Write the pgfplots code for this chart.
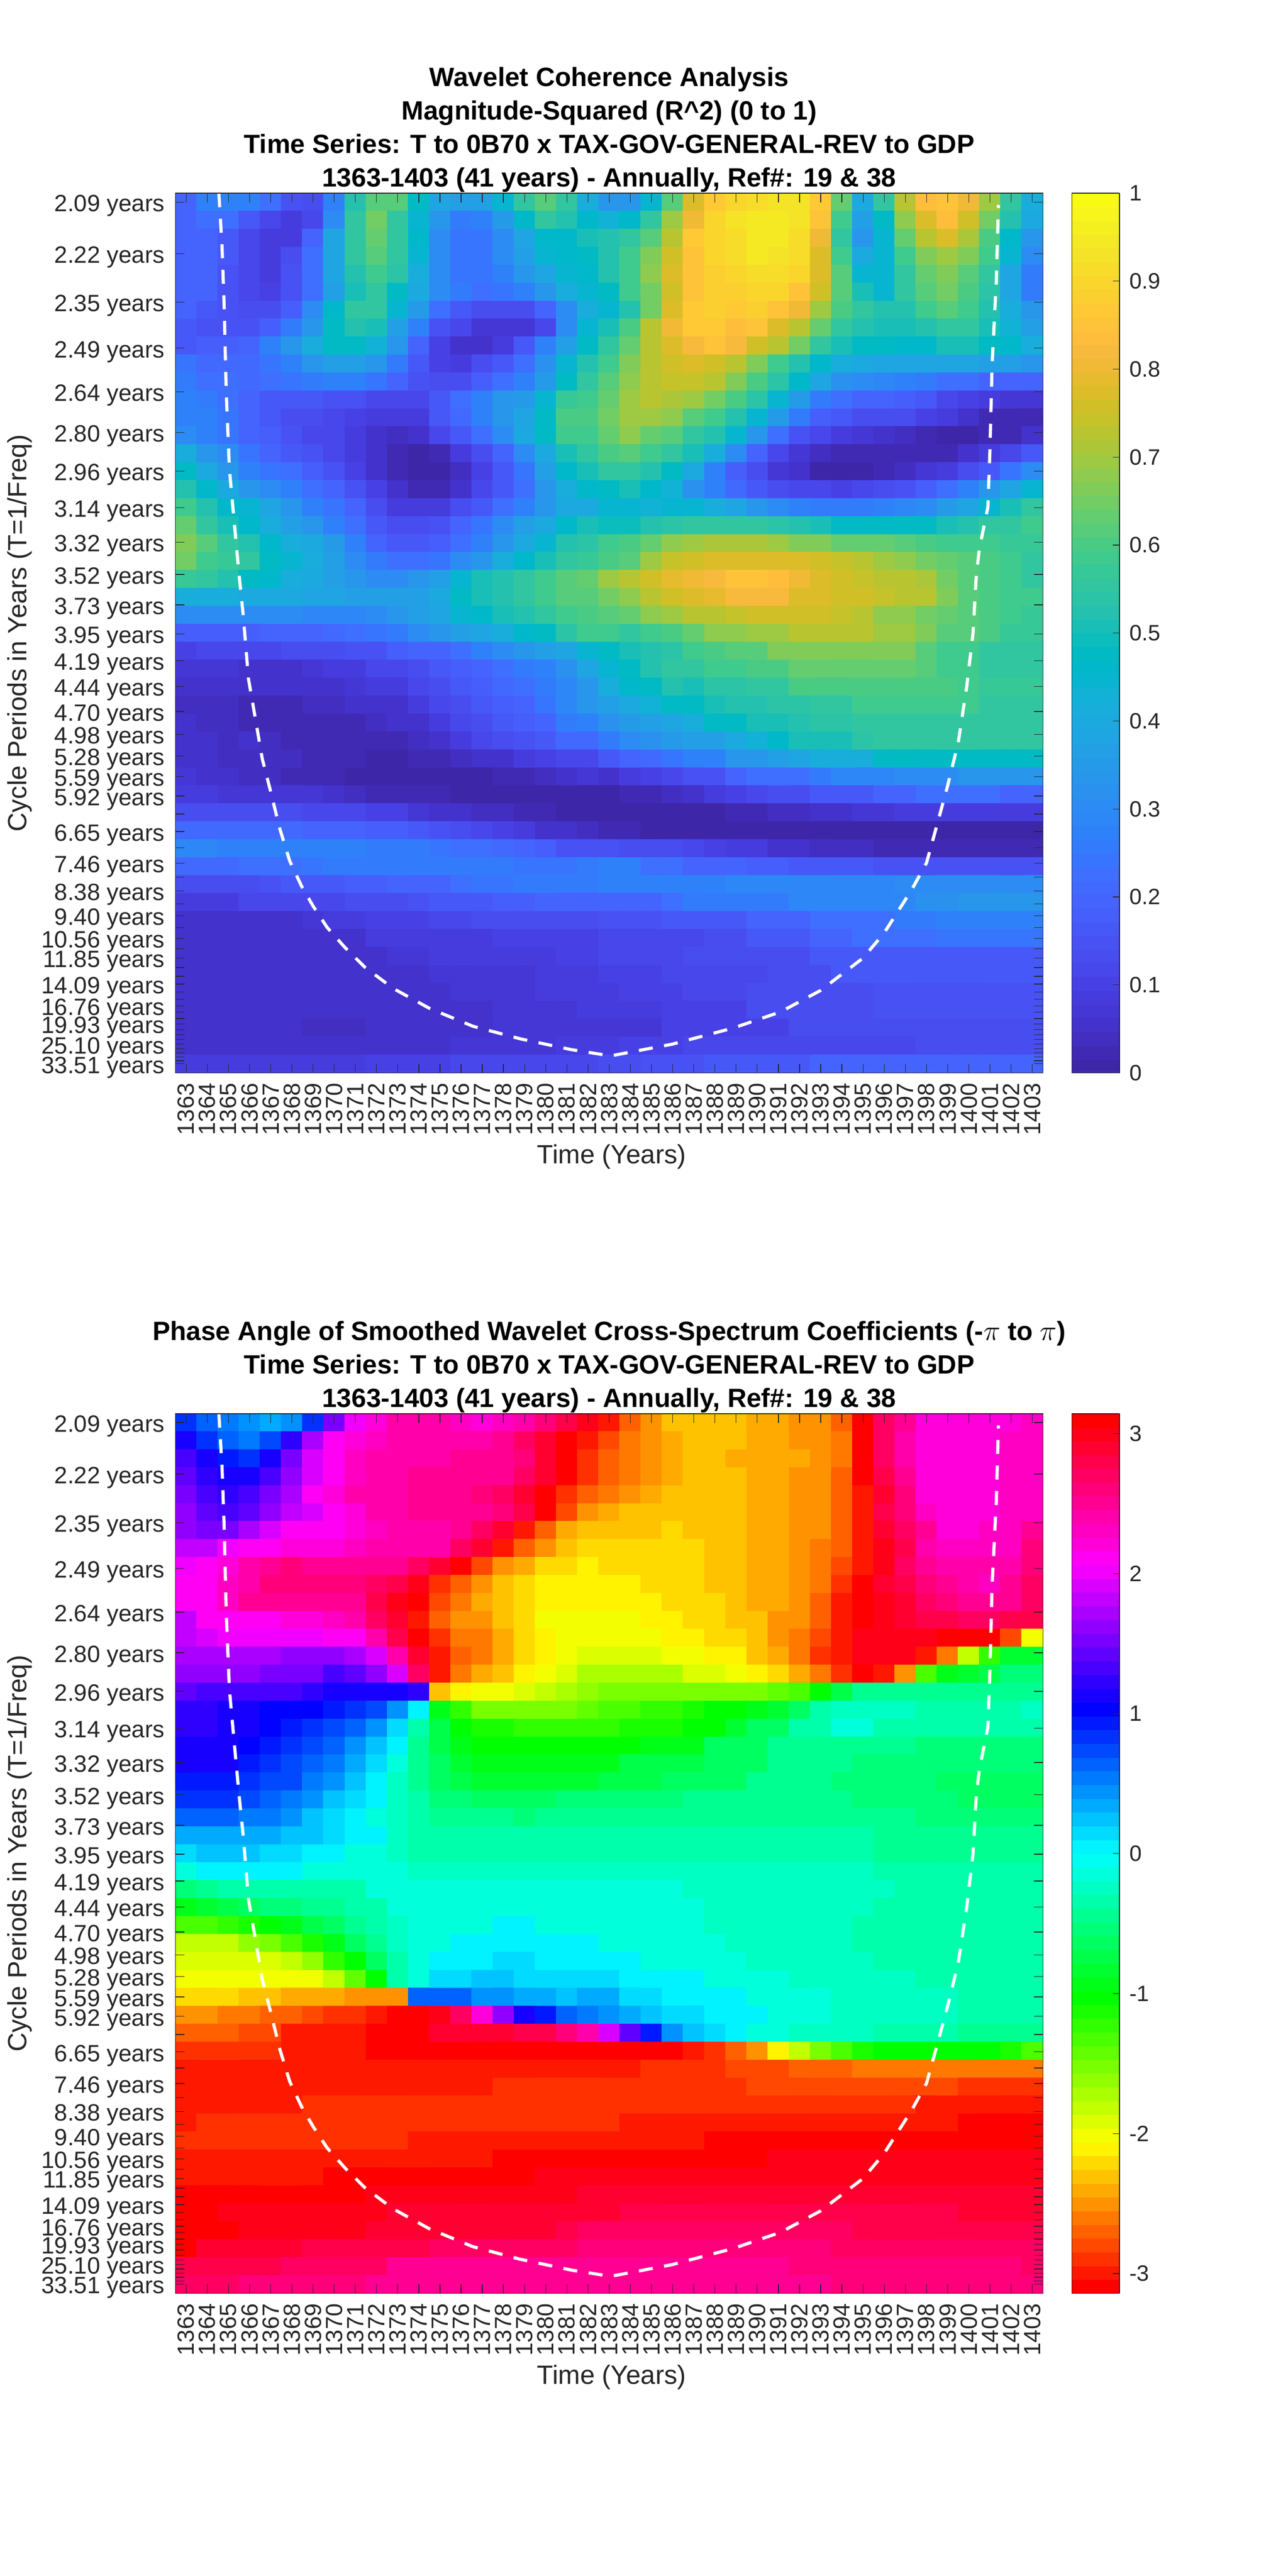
\documentclass[border=0pt]{standalone}
\usepackage{fontspec}
\setmainfont{Liberation Sans}
\usepackage{pgfplots}
\pgfplotsset{compat=1.18}
\definecolor{tk}{rgb}{0.15,0.15,0.15}
\pgfplotsset{
colormap={parula64}{
rgb=(.2422,.1504,.6603) rgb=(.2504,.1650,.7076) rgb=(.2578,.1818,.7511) rgb=(.2647,.1978,.7952)
rgb=(.2706,.2147,.8364) rgb=(.2751,.2342,.8710) rgb=(.2783,.2559,.8991) rgb=(.2803,.2782,.9221)
rgb=(.2813,.3006,.9414) rgb=(.2810,.3228,.9579) rgb=(.2795,.3447,.9717) rgb=(.2760,.3667,.9829)
rgb=(.2699,.3892,.9906) rgb=(.2602,.4123,.9952) rgb=(.2440,.4358,.9988) rgb=(.2206,.4603,.9973)
rgb=(.1963,.4847,.9892) rgb=(.1834,.5074,.9798) rgb=(.1786,.5289,.9682) rgb=(.1764,.5499,.9520)
rgb=(.1687,.5703,.9359) rgb=(.1540,.5902,.9218) rgb=(.1460,.6091,.9079) rgb=(.1380,.6276,.8973)
rgb=(.1248,.6459,.8883) rgb=(.1113,.6635,.8763) rgb=(.0952,.6798,.8598) rgb=(.0689,.6948,.8394)
rgb=(.0297,.7082,.8163) rgb=(.0036,.7203,.7917) rgb=(.0067,.7312,.7660) rgb=(.0433,.7411,.7394)
rgb=(.0964,.7500,.7120) rgb=(.1408,.7584,.6842) rgb=(.1717,.7670,.6554) rgb=(.1938,.7758,.6251)
rgb=(.2161,.7843,.5923) rgb=(.2470,.7918,.5567) rgb=(.2906,.7973,.5188) rgb=(.3406,.8008,.4789)
rgb=(.3909,.8029,.4354) rgb=(.4456,.8024,.3909) rgb=(.5044,.7993,.3480) rgb=(.5616,.7942,.3045)
rgb=(.6174,.7876,.2612) rgb=(.6720,.7793,.2227) rgb=(.7242,.7698,.1910) rgb=(.7738,.7598,.1646)
rgb=(.8203,.7498,.1535) rgb=(.8634,.7406,.1596) rgb=(.9035,.7330,.1774) rgb=(.9393,.7288,.2100)
rgb=(.9728,.7298,.2394) rgb=(.9956,.7434,.2371) rgb=(.9970,.7659,.2199) rgb=(.9952,.7893,.2028)
rgb=(.9892,.8136,.1885) rgb=(.9786,.8386,.1766) rgb=(.9676,.8639,.1643) rgb=(.9610,.8890,.1537)
rgb=(.9597,.9135,.1423) rgb=(.9628,.9373,.1265) rgb=(.9691,.9606,.1064) rgb=(.9769,.9839,.0805)},
colormap={hsvbase}{rgb255=(255,0,0) rgb255=(255,255,0) rgb255=(0,255,0) rgb255=(0,255,255) rgb255=(0,0,255) rgb255=(255,0,255) rgb255=(255,0,0)},
colormap={hsv64}{samples of colormap=(64 of hsvbase)},
hm/.style={
 anchor=north west, scale only axis, width=526.25pt, height=533.75pt,
 xmin=0, xmax=41, ymin=0, ymax=49, y dir=reverse, axis on top,
 tick align=inside, major tick length=5.5pt, tick style={tk,line width=.4pt}, axis line style={tk,line width=.4pt},
 xtick={0.5,1.5,...,40.5},
 xticklabels={1363,1364,1365,1366,1367,1368,1369,1370,1371,1372,1373,1374,1375,1376,1377,1378,1379,1380,1381,1382,1383,1384,1385,1386,1387,1388,1389,1390,1391,1392,1393,1394,1395,1396,1397,1398,1399,1400,1401,1402,1403},
 x tick label style={rotate=90,anchor=east,font=\fontsize{14.2}{14.2}\selectfont,text=tk,inner sep=0pt,xshift=.5pt},
 xticklabel shift=6.5pt,
 ytick={0.49,3.36,6.07,8.63,11.05,13.32,15.47,17.52,19.43,21.23,22.93,24.54,26.03,27.48,28.87,30.14,31.35,32.49,33.57,34.58,35.55,36.45,37.31,38.10,38.87,39.59,40.25,40.91,41.51,42.08,42.60,43.13,43.62,44.05,44.49,44.89,45.26,45.62,45.97,46.27,46.58,46.87,47.13,47.40,47.64,47.88,48.10,48.32,48.49},
 yticklabels={2.09 years,2.22 years,2.35 years,2.49 years,2.64 years,2.80 years,2.96 years,3.14 years,3.32 years,3.52 years,3.73 years,3.95 years,4.19 years,4.44 years,4.70 years,4.98 years,5.28 years,5.59 years,5.92 years,{},6.65 years,{},7.46 years,{},8.38 years,{},9.40 years,{},10.56 years,{},11.85 years,{},{},14.09 years,{},{},16.76 years,{},{},19.93 years,{},{},{},25.10 years,{},{},{},{},33.51 years},
 y tick label style={font=\fontsize{14.3}{14.3}\selectfont,text=tk,inner sep=0pt,anchor=east,yshift=-2.2pt},
 yticklabel shift=6.5pt,
 xlabel={Time (Years)}, ylabel={Cycle Periods in Years (T=1/Freq)},
 every axis x label/.style={at={(axis description cs:0.503,-0.0951)},anchor=center,font=\fontsize{16}{16}\selectfont,text=tk},
 every axis y label/.style={at={(axis description cs:-0.1796,0.5)},anchor=center,rotate=90,font=\fontsize{16}{16}\selectfont,text=tk},
 title style={at={(axis description cs:0.5,1)},anchor=south,align=center,inner sep=0pt,yshift=-5.5pt,font=\fontsize{16.05}{20.25}\selectfont\bfseries,text=black},
 colorbar sampled,
 colorbar shift/.style={xshift=17.5pt},
 colormap access=piecewise constant,
},
cb/.style={samples=65,width=29pt,at={(parent axis.north east)},anchor=north west,tick align=inside,ytick pos=right,yticklabel pos=right,major tick length=4pt,tick style={tk,line width=.4pt},axis line style={tk,line width=.4pt},
 y tick label style={font=\fontsize{13.5}{13.5}\selectfont,text=tk,inner sep=0pt},yticklabel shift=5.8pt},
}
\begin{document}
\begin{tikzpicture}
\path[use as bounding box] (0,0) rectangle (781.25pt,-1563pt);
\begin{axis}[hm, at={(106.5pt,-117.25pt)}, colormap name=parula64, point meta min=0, point meta max=1,
 title={Wavelet Coherence Analysis\\Magnitude-Squared (R\^{}2) (0 to 1)\\Time Series: T to 0B70 x TAX-GOV-GENERAL-REV to GDP\\1363-1403 (41 years) - Annually, Ref\#: 19 \& 38},
 colorbar style={cb,ytick={0,0.1,0.2,0.3,0.4,0.5,0.6,0.7,0.8,0.9,1},yticklabels={0,0.1,0.2,0.3,0.4,0.5,0.6,0.7,0.8,0.9,1}}]
\addplot[matrix plot*,mesh/cols=41,point meta=explicit] table[row sep=crcr,header=false,x expr={mod(\coordindex,41)+0.5},y expr={floor((\coordindex+0.5)/41)+0.5},meta expr={\thisrowno{0}/100}] {
20\\28\\28\\28\\22\\15\\13\\27\\52\\62\\62\\48\\38\\36\\36\\45\\55\\62\\56\\42\\33\\33\\45\\62\\77\\87\\90\\92\\93\\93\\87\\63\\40\\55\\72\\83\\85\\80\\70\\55\\42\\
20\\22\\22\\17\\11\\8\\12\\30\\55\\65\\55\\45\\33\\26\\28\\35\\46\\55\\52\\46\\43\\46\\55\\70\\80\\90\\93\\95\\95\\93\\85\\58\\36\\47\\68\\77\\84\\76\\65\\52\\40\\
20\\20\\17\\12\\8\\9\\20\\38\\55\\63\\55\\46\\30\\24\\24\\31\\38\\46\\46\\50\\52\\55\\62\\73\\87\\90\\92\\94\\94\\92\\80\\55\\34\\44\\64\\73\\77\\71\\60\\46\\33\\
20\\19\\16\\12\\9\\13\\22\\38\\55\\61\\55\\45\\30\\24\\24\\30\\36\\44\\46\\48\\53\\58\\67\\76\\85\\90\\92\\94\\93\\91\\78\\58\\40\\44\\58\\66\\70\\66\\58\\44\\30\\
20\\19\\15\\12\\9\\15\\22\\38\\52\\58\\54\\42\\30\\24\\24\\28\\33\\38\\44\\46\\52\\58\\68\\77\\85\\89\\90\\92\\92\\90\\77\\62\\45\\45\\56\\63\\67\\62\\56\\38\\26\\
20\\19\\15\\12\\10\\15\\22\\37\\50\\55\\48\\40\\30\\25\\23\\24\\28\\33\\42\\45\\48\\58\\65\\76\\85\\88\\88\\90\\90\\85\\76\\62\\50\\45\\55\\62\\65\\60\\54\\38\\26\\
20\\17\\15\\13\\13\\18\\30\\46\\56\\55\\45\\35\\22\\17\\14\\14\\14\\19\\30\\42\\44\\52\\65\\78\\87\\88\\87\\88\\85\\80\\70\\60\\55\\52\\53\\58\\62\\58\\53\\42\\33\\
17\\15\\15\\15\\18\\26\\33\\48\\52\\50\\37\\27\\15\\11\\7\\7\\7\\12\\30\\45\\50\\60\\73\\80\\86\\86\\84\\85\\78\\72\\64\\56\\52\\50\\50\\52\\55\\55\\50\\43\\37\\
16\\18\\18\\20\\27\\33\\42\\47\\48\\43\\33\\19\\10\\5\\5\\9\\17\\28\\37\\48\\55\\63\\73\\78\\82\\85\\82\\75\\72\\65\\55\\50\\47\\47\\46\\46\\50\\50\\48\\46\\42\\
24\\21\\21\\21\\24\\28\\33\\36\\36\\34\\26\\17\\10\\9\\14\\16\\22\\32\\44\\53\\58\\66\\73\\76\\77\\76\\72\\66\\58\\52\\46\\42\\40\\39\\38\\38\\38\\38\\37\\36\\34\\
25\\23\\22\\21\\22\\24\\25\\27\\27\\24\\20\\15\\13\\14\\18\\22\\28\\35\\48\\55\\62\\68\\73\\74\\74\\73\\66\\60\\54\\46\\38\\32\\30\\29\\28\\25\\23\\22\\20\\20\\20\\
28\\25\\22\\19\\17\\16\\16\\15\\15\\12\\11\\11\\16\\22\\27\\33\\35\\45\\57\\58\\64\\70\\72\\71\\70\\65\\60\\54\\45\\35\\25\\22\\20\\20\\18\\16\\12\\10\\8\\7\\7\\
28\\27\\24\\20\\17\\14\\13\\11\\10\\8\\8\\9\\17\\21\\27\\33\\38\\47\\60\\60\\65\\70\\70\\68\\62\\58\\53\\45\\35\\25\\18\\16\\14\\14\\13\\10\\8\\5\\3\\2\\2\\
30\\28\\24\\20\\18\\15\\12\\11\\8\\6\\4\\6\\11\\17\\23\\31\\40\\47\\58\\58\\63\\68\\64\\62\\56\\52\\44\\33\\23\\15\\11\\9\\7\\6\\4\\2\\0\\0\\2\\3\\6\\
42\\34\\30\\24\\19\\16\\15\\12\\9\\5\\2\\1\\3\\8\\14\\20\\30\\40\\50\\55\\60\\62\\58\\55\\50\\42\\30\\20\\12\\7\\4\\3\\2\\2\\2\\2\\3\\5\\9\\12\\17\\
47\\40\\33\\27\\24\\22\\18\\15\\10\\6\\3\\1\\1\\4\\10\\17\\24\\37\\46\\50\\55\\56\\53\\48\\40\\28\\18\\13\\7\\5\\1\\1\\1\\3\\4\\7\\9\\13\\17\\24\\30\\
52\\46\\40\\33\\31\\28\\23\\19\\15\\10\\5\\2\\2\\5\\12\\16\\22\\33\\41\\46\\47\\50\\46\\43\\32\\27\\21\\16\\13\\11\\11\\10\\12\\13\\15\\18\\22\\27\\34\\38\\45\\
58\\52\\46\\44\\38\\33\\28\\24\\19\\13\\9\\8\\9\\13\\17\\22\\27\\33\\40\\40\\44\\44\\43\\44\\45\\42\\38\\33\\31\\28\\26\\25\\25\\27\\29\\31\\35\\39\\45\\50\\55\\
63\\56\\50\\46\\42\\37\\33\\28\\22\\17\\14\\14\\15\\20\\24\\31\\36\\40\\46\\50\\49\\49\\52\\54\\55\\55\\56\\55\\54\\52\\50\\48\\47\\47\\47\\47\\50\\52\\55\\56\\58\\
67\\61\\56\\52\\46\\42\\40\\35\\27\\20\\17\\17\\18\\22\\28\\33\\40\\45\\52\\54\\58\\60\\63\\68\\70\\71\\71\\71\\70\\67\\66\\64\\63\\63\\62\\60\\59\\59\\58\\57\\57\\
65\\58\\57\\55\\47\\44\\42\\37\\30\\25\\23\\23\\24\\30\\34\\42\\46\\50\\55\\57\\60\\62\\70\\74\\76\\77\\78\\78\\78\\78\\76\\74\\72\\70\\68\\65\\63\\62\\60\\58\\56\\
57\\55\\52\\48\\46\\42\\40\\37\\33\\31\\31\\33\\36\\45\\50\\53\\56\\58\\62\\64\\69\\72\\76\\79\\80\\82\\85\\85\\83\\80\\78\\76\\74\\73\\72\\71\\65\\62\\60\\58\\56\\
41\\41\\41\\40\\40\\40\\39\\38\\37\\37\\37\\37\\40\\47\\50\\52\\56\\58\\62\\62\\65\\68\\72\\75\\77\\79\\82\\82\\82\\78\\78\\76\\75\\74\\72\\72\\66\\62\\60\\58\\58\\
31\\31\\31\\31\\31\\31\\29\\29\\29\\30\\33\\36\\38\\45\\46\\50\\53\\55\\58\\60\\62\\64\\68\\70\\73\\73\\74\\76\\76\\76\\75\\74\\72\\68\\68\\65\\64\\61\\60\\59\\57\\
18\\18\\18\\18\\19\\19\\20\\21\\22\\24\\26\\30\\33\\37\\38\\42\\46\\48\\54\\58\\58\\55\\58\\60\\64\\68\\68\\70\\70\\72\\72\\72\\72\\70\\70\\66\\62\\62\\60\\57\\57\\
10\\11\\12\\12\\12\\13\\13\\14\\15\\15\\18\\20\\20\\22\\27\\30\\33\\36\\38\\44\\47\\50\\52\\54\\58\\60\\62\\62\\67\\67\\67\\67\\67\\67\\67\\62\\58\\58\\56\\55\\55\\
7\\7\\7\\6\\6\\6\\7\\8\\9\\11\\12\\13\\17\\18\\20\\22\\25\\27\\32\\38\\44\\48\\52\\55\\55\\58\\58\\60\\60\\63\\63\\63\\63\\63\\63\\62\\58\\58\\55\\55\\55\\
5\\5\\5\\5\\5\\6\\6\\6\\7\\8\\9\\11\\14\\16\\18\\21\\23\\25\\29\\34\\41\\46\\48\\52\\50\\54\\54\\56\\56\\60\\60\\60\\60\\60\\60\\60\\60\\58\\57\\57\\57\\
4\\4\\4\\3\\3\\3\\4\\4\\5\\5\\6\\9\\11\\13\\16\\18\\20\\24\\29\\33\\36\\40\\43\\47\\47\\51\\52\\52\\54\\54\\56\\56\\58\\58\\58\\58\\58\\58\\56\\56\\56\\
5\\4\\4\\3\\3\\2\\3\\3\\3\\4\\5\\6\\9\\11\\14\\16\\18\\20\\26\\28\\32\\35\\36\\38\\42\\47\\47\\50\\50\\53\\54\\54\\55\\55\\55\\55\\55\\55\\55\\55\\55\\
5\\5\\4\\5\\4\\3\\2\\2\\2\\2\\3\\4\\5\\8\\12\\13\\15\\17\\21\\21\\25\\30\\32\\35\\37\\37\\40\\43\\46\\50\\50\\50\\54\\55\\55\\55\\55\\55\\55\\55\\55\\
5\\5\\4\\4\\4\\4\\2\\2\\2\\1\\1\\2\\3\\4\\5\\6\\8\\10\\11\\12\\17\\20\\21\\24\\28\\28\\34\\34\\36\\38\\42\\42\\42\\47\\47\\47\\47\\47\\47\\47\\48\\
7\\5\\5\\4\\4\\3\\3\\2\\1\\1\\1\\1\\1\\1\\1\\2\\3\\4\\5\\7\\6\\8\\10\\12\\15\\15\\20\\22\\22\\22\\25\\29\\29\\29\\31\\31\\31\\33\\33\\33\\33\\
9\\9\\7\\7\\7\\7\\7\\5\\4\\3\\3\\2\\2\\1\\1\\1\\1\\1\\1\\1\\1\\2\\3\\4\\6\\8\\10\\12\\14\\14\\17\\17\\17\\20\\20\\22\\22\\22\\22\\20\\19\\
14\\14\\14\\13\\13\\13\\12\\11\\11\\10\\10\\7\\5\\5\\4\\4\\3\\2\\1\\1\\0\\0\\0\\0\\0\\1\\2\\2\\4\\4\\6\\6\\7\\7\\8\\8\\8\\9\\9\\9\\8\\
21\\21\\21\\21\\21\\21\\20\\20\\19\\18\\18\\17\\15\\13\\12\\10\\8\\6\\5\\4\\3\\2\\1\\1\\0\\0\\0\\0\\0\\0\\0\\0\\0\\0\\0\\0\\0\\0\\0\\0\\0\\
29\\29\\28\\28\\28\\27\\27\\27\\27\\26\\26\\25\\24\\23\\22\\21\\20\\18\\15\\15\\15\\14\\14\\14\\12\\10\\8\\8\\6\\6\\4\\4\\4\\2\\2\\2\\2\\2\\2\\2\\2\\
21\\21\\21\\22\\22\\23\\24\\25\\25\\25\\26\\26\\26\\25\\25\\25\\24\\24\\24\\25\\27\\27\\22\\22\\20\\20\\20\\18\\18\\17\\17\\17\\17\\15\\15\\15\\15\\15\\15\\15\\15\\
14\\14\\14\\14\\15\\16\\16\\16\\18\\18\\19\\19\\20\\22\\24\\24\\25\\25\\26\\26\\27\\27\\27\\27\\27\\27\\29\\29\\29\\29\\29\\29\\29\\29\\31\\31\\31\\31\\31\\31\\31\\
9\\9\\9\\11\\11\\11\\11\\12\\13\\14\\14\\15\\16\\17\\17\\18\\18\\19\\19\\19\\20\\20\\20\\23\\25\\25\\26\\26\\26\\29\\29\\29\\29\\29\\29\\32\\32\\33\\33\\33\\33\\
6\\6\\6\\6\\6\\6\\7\\9\\9\\10\\10\\10\\12\\12\\13\\13\\13\\14\\14\\14\\15\\15\\15\\17\\17\\17\\17\\19\\19\\19\\23\\23\\23\\23\\25\\25\\28\\28\\28\\28\\28\\
6\\6\\6\\6\\6\\6\\6\\6\\6\\8\\8\\8\\9\\9\\9\\10\\10\\10\\10\\10\\12\\12\\12\\12\\12\\13\\13\\16\\16\\16\\19\\19\\22\\22\\22\\22\\24\\24\\24\\24\\24\\
6\\6\\6\\6\\6\\6\\6\\6\\6\\6\\7\\7\\8\\8\\8\\9\\9\\9\\10\\10\\11\\11\\11\\11\\13\\13\\13\\13\\13\\13\\16\\16\\16\\17\\17\\17\\17\\17\\17\\17\\17\\
6\\6\\6\\6\\6\\6\\6\\6\\6\\6\\6\\6\\7\\7\\7\\7\\7\\8\\9\\9\\10\\10\\10\\12\\12\\12\\12\\12\\13\\13\\13\\16\\16\\16\\16\\16\\16\\16\\16\\16\\16\\
6\\6\\6\\6\\6\\6\\6\\6\\6\\6\\6\\6\\6\\7\\7\\7\\7\\8\\8\\9\\9\\10\\10\\10\\11\\11\\11\\13\\13\\13\\13\\13\\13\\15\\15\\15\\15\\15\\15\\15\\15\\
6\\5\\5\\5\\5\\5\\6\\6\\6\\6\\6\\6\\6\\6\\6\\7\\7\\7\\7\\8\\8\\8\\8\\10\\10\\10\\10\\13\\13\\13\\13\\13\\13\\15\\15\\15\\15\\15\\15\\15\\15\\
5\\5\\5\\5\\5\\5\\4\\4\\4\\6\\6\\6\\6\\6\\6\\7\\7\\7\\7\\7\\7\\7\\7\\10\\10\\10\\10\\10\\10\\13\\13\\13\\13\\13\\13\\13\\13\\13\\13\\13\\13\\
5\\5\\5\\5\\5\\5\\5\\6\\6\\6\\6\\6\\6\\7\\7\\7\\7\\7\\8\\8\\9\\10\\10\\10\\12\\12\\12\\12\\12\\12\\12\\12\\12\\12\\12\\13\\13\\13\\13\\13\\13\\
8\\8\\8\\8\\8\\8\\9\\9\\9\\10\\10\\10\\10\\11\\11\\11\\11\\12\\12\\12\\13\\14\\15\\15\\15\\16\\17\\17\\17\\17\\19\\19\\20\\20\\20\\20\\20\\20\\20\\20\\20\\
};
\addplot[white,line width=1.9pt,dash pattern=on 8.5pt off 7pt] coordinates {(2.05,0) (2.1,1) (2.2,3) (2.3,6.3) (2.4,11.2) (2.55,15.4) (2.75,18) (3,21.2) (3.2,23.5) (3.45,27.06) (3.78,29.3) (4.1,31.5) (4.47,33.2) (4.93,35.4) (5.4,37.2) (5.96,38.6) (6.5,39.7) (7.17,40.9) (8,42) (8.94,43.1) (10.3,44.3) (12,45.4) (14.06,46.4) (16.3,47.1) (18.7,47.7) (20.57,48.05) (23.47,47.4) (26.36,46.5) (28.6,45.6) (30.5,44.4) (32.5,42.6) (33.5,41.2) (34.8,38.8) (35.5,37.3) (35.9,35.6) (36.5,33) (37,30.6) (37.4,27.5) (37.7,24.5) (37.85,21.35) (38,19.8) (38.4,17.5) (38.5,14.3) (38.6,9.6) (38.8,4.9) (38.9,0.65)};
\end{axis}
\begin{axis}[hm, at={(106.5pt,-857.75pt)}, colormap name=hsv64, point meta min=-3.1416, point meta max=3.1416,
 title={Phase Angle of Smoothed Wavelet Cross-Spectrum Coefficients (-$\pi$ to $\pi$)\\Time Series: T to 0B70 x TAX-GOV-GENERAL-REV to GDP\\1363-1403 (41 years) - Annually, Ref\#: 19 \& 38},
 colorbar style={cb,ytick={-3,-2,-1,0,1,2,3},yticklabels={-3,-2,-1,0,1,2,3}}]
\addplot[matrix plot*,mesh/cols=41,point meta=explicit] table[row sep=crcr,header=false,x expr={mod(\coordindex,41)+0.5},y expr={floor((\coordindex+0.5)/41)+0.5},meta expr={\thisrowno{0}/10}] {
8\\6\\5\\4\\3\\4\\8\\15\\20\\22\\24\\24\\24\\23\\22\\23\\24\\26\\28\\30\\-30\\-27\\-25\\-23\\-23\\-23\\-23\\-24\\-24\\-25\\-25\\-27\\31\\27\\25\\22\\22\\22\\22\\22\\23\\
11\\8\\6\\5\\7\\12\\17\\21\\22\\23\\24\\24\\24\\24\\24\\25\\27\\29\\31\\-30\\-28\\-26\\-25\\-24\\-23\\-23\\-23\\-24\\-24\\-25\\-25\\-26\\31\\27\\24\\22\\22\\22\\22\\23\\23\\
13\\11\\9\\8\\11\\15\\19\\21\\23\\24\\24\\24\\24\\25\\25\\25\\26\\29\\-31\\-29\\-27\\-26\\-25\\-24\\-23\\-23\\-24\\-24\\-24\\-24\\-25\\-26\\31\\27\\24\\22\\22\\22\\22\\23\\23\\
14\\12\\11\\11\\13\\16\\19\\21\\23\\24\\24\\25\\25\\25\\25\\25\\27\\29\\-31\\-29\\-27\\-26\\-25\\-24\\-23\\-23\\-23\\-24\\-24\\-25\\-25\\-27\\31\\28\\25\\22\\22\\22\\22\\23\\23\\
15\\13\\12\\13\\15\\17\\21\\22\\24\\24\\24\\25\\25\\25\\26\\27\\29\\-31\\-29\\-27\\-26\\-25\\-24\\-23\\-23\\-23\\-23\\-24\\-24\\-25\\-25\\-27\\-30\\29\\26\\22\\22\\22\\22\\23\\23\\
16\\14\\13\\14\\16\\18\\19\\21\\22\\24\\24\\25\\25\\25\\25\\26\\28\\-31\\-28\\-25\\-24\\-23\\-23\\-23\\-23\\-23\\-23\\-24\\-24\\-25\\-25\\-27\\-30\\28\\26\\23\\22\\22\\22\\23\\23\\
16\\15\\15\\17\\19\\21\\21\\21\\22\\23\\24\\24\\24\\25\\27\\29\\-30\\-27\\-24\\-23\\-23\\-23\\-23\\-22\\-23\\-23\\-23\\-24\\-24\\-25\\-25\\-27\\-30\\29\\27\\25\\22\\22\\23\\23\\25\\
18\\18\\20\\21\\21\\22\\22\\22\\23\\24\\24\\24\\24\\27\\29\\-30\\-27\\-25\\-23\\-22\\-22\\-22\\-22\\-22\\-22\\-23\\-23\\-24\\-24\\-25\\-26\\-27\\-30\\30\\28\\24\\23\\23\\23\\23\\26\\
20\\21\\22\\24\\25\\26\\25\\25\\25\\25\\25\\27\\29\\-31\\-28\\-25\\-24\\-22\\-22\\-21\\-22\\-22\\-22\\-22\\-22\\-23\\-23\\-24\\-24\\-25\\-26\\-28\\-30\\30\\27\\25\\24\\24\\24\\24\\26\\
21\\21\\23\\24\\26\\26\\26\\26\\26\\27\\28\\30\\-29\\-27\\-25\\-23\\-22\\-21\\-21\\-21\\-21\\-21\\-22\\-22\\-22\\-23\\-23\\-24\\-24\\-25\\-26\\-29\\-31\\29\\28\\26\\25\\24\\23\\25\\27\\
21\\21\\23\\25\\25\\25\\25\\25\\25\\28\\30\\-31\\-28\\-26\\-24\\-23\\-22\\-21\\-21\\-21\\-21\\-21\\-21\\-22\\-22\\-22\\-23\\-24\\-24\\-25\\-27\\-30\\-31\\30\\29\\27\\26\\25\\25\\25\\27\\
18\\21\\21\\21\\21\\22\\22\\23\\24\\27\\29\\-30\\-27\\-25\\-25\\-23\\-22\\-20\\-20\\-20\\-20\\-20\\-21\\-21\\-22\\-22\\-23\\-23\\-25\\-25\\-27\\-30\\-31\\30\\29\\28\\28\\27\\27\\28\\28\\
18\\19\\20\\20\\20\\20\\20\\21\\21\\24\\28\\-31\\-29\\-26\\-26\\-24\\-22\\-21\\-20\\-20\\-20\\-20\\-20\\-21\\-21\\-22\\-22\\-23\\-25\\-26\\-28\\-30\\30\\30\\30\\30\\31\\31\\-31\\-28\\-20\\
17\\17\\17\\17\\17\\16\\16\\16\\17\\19\\24\\29\\-30\\-27\\-26\\-24\\-22\\-21\\-20\\-19\\-19\\-19\\-19\\-20\\-20\\-21\\-21\\-23\\-24\\-26\\-29\\-30\\30\\30\\30\\-30\\-26\\-18\\-12\\-8\\-8\\
16\\16\\16\\16\\15\\15\\15\\13\\14\\16\\19\\27\\-30\\-26\\-24\\-23\\-21\\-20\\-19\\-17\\-17\\-17\\-17\\-17\\-19\\-19\\-20\\-21\\-22\\-24\\-26\\-29\\-31\\-30\\-25\\-13\\-9\\-8\\-7\\-5\\-5\\
14\\13\\13\\13\\13\\13\\12\\11\\11\\11\\11\\12\\-23\\-21\\-20\\-20\\-19\\-18\\-17\\-16\\-15\\-15\\-15\\-15\\-15\\-15\\-15\\-15\\-14\\-13\\-10\\-7\\-4\\-4\\-4\\-4\\-4\\-4\\-4\\-4\\-4\\
12\\12\\11\\11\\10\\10\\10\\9\\8\\7\\4\\0\\-9\\-12\\-15\\-15\\-15\\-15\\-15\\-14\\-13\\-13\\-12\\-12\\-11\\-10\\-10\\-9\\-8\\-6\\-3\\-2\\-2\\-2\\-2\\-3\\-3\\-3\\-3\\-3\\-2\\
12\\12\\11\\11\\10\\9\\8\\7\\6\\4\\1\\-3\\-7\\-10\\-11\\-11\\-12\\-12\\-12\\-12\\-12\\-11\\-11\\-11\\-10\\-10\\-8\\-6\\-6\\-3\\-3\\-1\\-1\\-3\\-3\\-3\\-3\\-3\\-3\\-3\\-3\\
11\\11\\11\\10\\9\\8\\7\\6\\4\\2\\0\\-4\\-7\\-9\\-10\\-10\\-10\\-10\\-10\\-10\\-10\\-10\\-9\\-9\\-9\\-6\\-6\\-6\\-4\\-4\\-4\\-4\\-4\\-4\\-4\\-5\\-5\\-5\\-5\\-5\\-5\\
11\\11\\11\\9\\8\\7\\6\\5\\3\\1\\-1\\-4\\-6\\-8\\-9\\-9\\-9\\-9\\-9\\-9\\-9\\-7\\-7\\-7\\-7\\-6\\-6\\-6\\-4\\-4\\-4\\-4\\-5\\-5\\-5\\-5\\-5\\-5\\-5\\-5\\-5\\
9\\9\\9\\8\\7\\7\\5\\4\\2\\0\\-2\\-4\\-6\\-7\\-8\\-8\\-8\\-8\\-8\\-8\\-7\\-7\\-7\\-6\\-6\\-6\\-6\\-4\\-4\\-4\\-4\\-5\\-5\\-5\\-5\\-5\\-6\\-6\\-6\\-6\\-6\\
8\\8\\8\\7\\6\\5\\4\\2\\1\\0\\-2\\-3\\-5\\-5\\-6\\-6\\-6\\-6\\-5\\-5\\-5\\-5\\-5\\-5\\-4\\-4\\-4\\-4\\-4\\-4\\-4\\-4\\-5\\-5\\-5\\-5\\-5\\-6\\-6\\-6\\-6\\
6\\6\\6\\5\\5\\4\\2\\1\\0\\-1\\-2\\-3\\-4\\-4\\-4\\-4\\-5\\-4\\-4\\-4\\-4\\-4\\-4\\-4\\-4\\-4\\-4\\-4\\-4\\-4\\-4\\-4\\-4\\-4\\-4\\-5\\-5\\-5\\-5\\-5\\-5\\
3\\3\\3\\3\\3\\2\\2\\1\\0\\0\\-2\\-3\\-3\\-3\\-3\\-3\\-3\\-3\\-3\\-3\\-3\\-3\\-3\\-3\\-3\\-3\\-3\\-3\\-3\\-3\\-3\\-3\\-3\\-4\\-4\\-4\\-4\\-4\\-4\\-4\\-4\\
1\\2\\2\\2\\1\\1\\0\\0\\-1\\-1\\-2\\-3\\-3\\-3\\-3\\-3\\-3\\-3\\-3\\-3\\-3\\-3\\-3\\-3\\-3\\-3\\-3\\-3\\-3\\-3\\-3\\-3\\-3\\-4\\-4\\-4\\-4\\-4\\-4\\-4\\-4\\
-1\\0\\0\\0\\0\\0\\-1\\-1\\-1\\-1\\-1\\-2\\-2\\-2\\-2\\-2\\-2\\-2\\-2\\-2\\-2\\-2\\-2\\-2\\-2\\-2\\-2\\-2\\-2\\-2\\-2\\-2\\-2\\-3\\-3\\-3\\-3\\-3\\-3\\-3\\-3\\
-5\\-4\\-3\\-3\\-3\\-3\\-3\\-3\\-3\\-1\\-1\\-1\\-1\\-1\\-1\\-1\\-1\\-1\\-1\\-1\\-1\\-1\\-1\\-1\\-2\\-2\\-2\\-2\\-2\\-2\\-2\\-2\\-2\\-2\\-3\\-3\\-3\\-3\\-3\\-3\\-3\\
-9\\-8\\-7\\-6\\-5\\-5\\-4\\-4\\-3\\-3\\-1\\-1\\-1\\-1\\-1\\-1\\-1\\-1\\-1\\-1\\-1\\-1\\-1\\-1\\-1\\-2\\-2\\-2\\-2\\-2\\-2\\-2\\-2\\-3\\-3\\-3\\-3\\-3\\-3\\-3\\-3\\
-13\\-13\\-12\\-11\\-10\\-9\\-7\\-6\\-4\\-3\\-2\\-1\\-1\\-1\\-1\\0\\0\\-1\\-1\\-1\\-1\\-1\\-1\\-1\\-1\\-2\\-2\\-2\\-2\\-2\\-2\\-2\\-3\\-3\\-3\\-3\\-3\\-3\\-3\\-3\\-3\\
-18\\-18\\-18\\-16\\-15\\-13\\-11\\-9\\-6\\-4\\-2\\-1\\-1\\0\\0\\0\\0\\0\\0\\0\\-1\\-1\\-1\\-1\\-1\\-1\\-2\\-2\\-2\\-2\\-2\\-2\\-3\\-3\\-3\\-3\\-3\\-3\\-3\\-3\\-3\\
-19\\-19\\-19\\-19\\-19\\-18\\-16\\-12\\-10\\-6\\-3\\-1\\0\\0\\0\\1\\1\\0\\0\\0\\0\\0\\-1\\-1\\-1\\-1\\-1\\-2\\-2\\-2\\-2\\-2\\-2\\-3\\-3\\-3\\-3\\-3\\-3\\-3\\-3\\
-20\\-20\\-20\\-20\\-20\\-20\\-20\\-18\\-14\\-10\\-3\\-1\\1\\1\\2\\2\\1\\1\\1\\1\\1\\0\\0\\0\\0\\-1\\-1\\-1\\-1\\-2\\-2\\-2\\-2\\-2\\-2\\-3\\-3\\-3\\-3\\-3\\-3\\
-22\\-22\\-22\\-23\\-23\\-24\\-24\\-24\\-25\\-25\\-25\\6\\6\\6\\4\\4\\3\\3\\2\\3\\3\\1\\1\\0\\0\\0\\0\\-1\\-1\\-1\\-1\\-2\\-2\\-2\\-2\\-2\\-2\\-3\\-3\\-3\\-3\\
-25\\-25\\-26\\-26\\-27\\-27\\-28\\-29\\-29\\-30\\-31\\-31\\30\\27\\22\\16\\11\\9\\6\\5\\4\\3\\2\\1\\1\\0\\0\\0\\-1\\-1\\-1\\-2\\-2\\-2\\-2\\-2\\-2\\-3\\-3\\-3\\-3\\
-27\\-27\\-27\\-28\\-28\\-30\\-30\\-30\\-30\\-31\\-31\\31\\29\\29\\29\\29\\28\\28\\26\\24\\19\\14\\9\\4\\2\\1\\0\\-1\\-1\\-2\\-2\\-2\\-2\\-3\\-3\\-3\\-3\\-4\\-4\\-4\\-4\\
-29\\-29\\-29\\-29\\-29\\-30\\-30\\-30\\-30\\-31\\-31\\-31\\-31\\-31\\31\\31\\31\\31\\31\\31\\31\\31\\-31\\-31\\-30\\-29\\-27\\-25\\-21\\-18\\-15\\-13\\-11\\-10\\-10\\-10\\-10\\-10\\-10\\-11\\-13\\
-30\\-30\\-30\\-30\\-30\\-30\\-30\\-30\\-30\\-30\\-30\\-30\\-30\\-30\\-30\\-30\\-30\\-30\\-30\\-30\\-30\\-30\\-29\\-29\\-29\\-29\\-28\\-28\\-28\\-27\\-27\\-27\\-26\\-26\\-26\\-26\\-26\\-26\\-26\\-26\\-26\\
-30\\-30\\-30\\-30\\-30\\-30\\-30\\-30\\-30\\-30\\-30\\-30\\-30\\-30\\-30\\-29\\-29\\-29\\-29\\-29\\-29\\-29\\-29\\-29\\-29\\-29\\-29\\-28\\-28\\-28\\-28\\-28\\-28\\-28\\-28\\-28\\-28\\-29\\-29\\-29\\-29\\
-30\\-30\\-30\\-30\\-30\\-30\\-29\\-29\\-29\\-29\\-29\\-29\\-29\\-29\\-29\\-29\\-29\\-29\\-29\\-29\\-29\\-29\\-29\\-29\\-29\\-29\\-29\\-29\\-29\\-29\\-29\\-29\\-29\\-29\\-29\\-30\\-30\\-30\\-30\\-30\\-30\\
-30\\-29\\-29\\-29\\-29\\-29\\-29\\-29\\-29\\-29\\-29\\-29\\-29\\-29\\-29\\-29\\-29\\-29\\-29\\-29\\-29\\-30\\-30\\-30\\-30\\-30\\-30\\-30\\-30\\-30\\-30\\-30\\-30\\-30\\-30\\-30\\-30\\-31\\-31\\-31\\-31\\
-29\\-29\\-29\\-29\\-29\\-29\\-29\\-29\\-29\\-29\\-29\\-30\\-30\\-30\\-30\\-30\\-30\\-30\\-30\\-30\\-30\\-30\\-30\\-30\\-30\\-31\\-31\\-31\\-31\\-31\\-31\\-31\\-31\\-31\\-31\\-31\\-31\\-31\\-31\\-31\\-31\\
-30\\-30\\-30\\-30\\-30\\-30\\-30\\-30\\-30\\-30\\-30\\-30\\-30\\-30\\-30\\-31\\-31\\-31\\-31\\-31\\-31\\-31\\-31\\-31\\-31\\-31\\-31\\-31\\30\\30\\30\\30\\30\\30\\30\\30\\30\\30\\30\\30\\30\\
-30\\-30\\-30\\-30\\-30\\-30\\-30\\-31\\-31\\-31\\-31\\-31\\-31\\-31\\-31\\-31\\-31\\30\\30\\30\\30\\30\\30\\30\\30\\30\\30\\30\\30\\30\\30\\30\\30\\30\\30\\30\\30\\30\\30\\30\\30\\
-31\\-31\\-31\\-31\\-31\\-31\\-31\\-31\\-31\\30\\30\\30\\30\\30\\30\\30\\30\\30\\30\\29\\29\\29\\29\\29\\29\\29\\29\\29\\29\\29\\29\\29\\29\\29\\29\\29\\29\\29\\29\\29\\29\\
-31\\-31\\30\\30\\30\\30\\30\\30\\30\\30\\29\\29\\29\\29\\29\\29\\29\\29\\29\\29\\29\\28\\28\\28\\28\\28\\28\\28\\28\\28\\28\\28\\28\\28\\28\\28\\28\\29\\29\\29\\29\\
-31\\-31\\-31\\30\\30\\30\\30\\30\\30\\29\\29\\29\\29\\29\\29\\29\\29\\29\\28\\27\\27\\27\\27\\27\\27\\27\\27\\27\\27\\27\\27\\27\\28\\28\\28\\28\\28\\28\\28\\28\\28\\
-31\\29\\29\\29\\29\\29\\28\\28\\28\\28\\28\\28\\27\\27\\27\\27\\27\\27\\27\\26\\26\\26\\26\\26\\26\\26\\26\\26\\26\\26\\26\\27\\27\\27\\27\\27\\27\\27\\27\\27\\27\\
28\\28\\28\\28\\28\\27\\27\\27\\27\\27\\25\\25\\25\\25\\25\\25\\25\\25\\25\\25\\25\\25\\25\\25\\25\\25\\25\\25\\25\\26\\26\\26\\26\\26\\26\\26\\26\\26\\26\\26\\27\\
27\\27\\27\\26\\26\\26\\26\\26\\26\\25\\25\\25\\25\\25\\25\\25\\25\\25\\25\\25\\25\\25\\25\\25\\25\\25\\25\\25\\25\\25\\25\\26\\26\\26\\26\\26\\26\\26\\26\\26\\26\\
};
\addplot[white,line width=1.9pt,dash pattern=on 8.5pt off 7pt] coordinates {(2.05,0) (2.1,1) (2.2,3) (2.3,6.3) (2.4,11.2) (2.55,15.4) (2.75,18) (3,21.2) (3.2,23.5) (3.45,27.06) (3.78,29.3) (4.1,31.5) (4.47,33.2) (4.93,35.4) (5.4,37.2) (5.96,38.6) (6.5,39.7) (7.17,40.9) (8,42) (8.94,43.1) (10.3,44.3) (12,45.4) (14.06,46.4) (16.3,47.1) (18.7,47.7) (20.57,48.05) (23.47,47.4) (26.36,46.5) (28.6,45.6) (30.5,44.4) (32.5,42.6) (33.5,41.2) (34.8,38.8) (35.5,37.3) (35.9,35.6) (36.5,33) (37,30.6) (37.4,27.5) (37.7,24.5) (37.85,21.35) (38,19.8) (38.4,17.5) (38.5,14.3) (38.6,9.6) (38.8,4.9) (38.9,0.65)};
\end{axis}
\end{tikzpicture}
\end{document}
